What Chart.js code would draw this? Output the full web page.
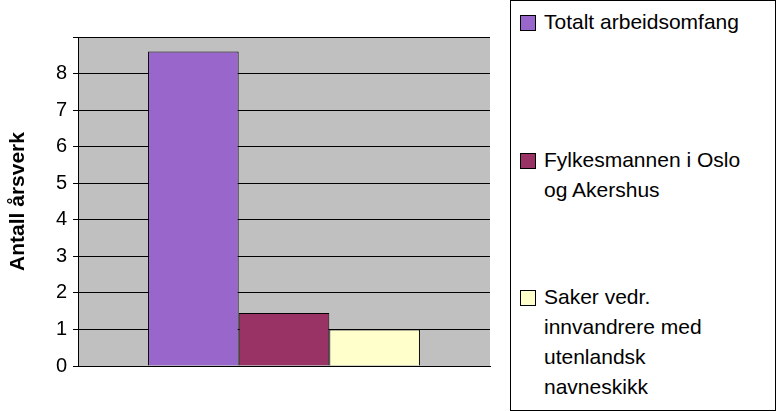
<!DOCTYPE html>
<html><head><meta charset="utf-8">
<script src="https://cdn.jsdelivr.net/npm/chart.js@4"></script>
<style>
body{margin:0;background:#fff;font-family:"Liberation Sans",Arial,sans-serif;}
#wrap{position:relative;width:778px;height:411px;}
#legend{position:absolute;left:510px;top:0;width:264px;height:409px;border:1px solid #000;background:#fff;}
.item{position:absolute;left:9px;font-size:21px;line-height:30px;color:#000;white-space:nowrap;}
.sw{position:absolute;left:0;top:8px;width:14px;height:14px;border:1px solid #000;}
.tx{margin-left:24px;}
</style></head><body>
<div id="wrap"><canvas id="c" width="778" height="411"></canvas>
<div id="legend"></div></div>
<script>
const categories = [""];
const seriesNames = ["Totalt arbeidsomfang", "Fylkesmannen i Oslo og Akershus", "Saker vedr. innvandrere med utenlandsk navneskikk"];
const legendLines = [["Totalt arbeidsomfang"], ["Fylkesmannen i Oslo", "og Akershus"], ["Saker vedr.", "innvandrere med", "utenlandsk", "navneskikk"]];
const values1 = [8.6];
const values2 = [1.45];
const values3 = [1.0];
const colors = ["#9966CC", "#993366", "#FFFFCC"];
const legendTops = [6, 144, 281];

const bg = {id:'bg', beforeDraw(ch){const a=ch.chartArea,c=ch.ctx;c.save();c.fillStyle='#C0C0C0';c.fillRect(a.left,a.top,a.right-a.left,a.bottom-a.top);c.restore();}};
new Chart(document.getElementById('c'), {
  type:'bar',
  data:{labels:categories, datasets:[values1,values2,values3].map((v,i)=>({label:seriesNames[i],data:v,backgroundColor:colors[i],borderColor:'#000',borderWidth:1,categoryPercentage:0.66,barPercentage:1}))},
  options:{responsive:false,animation:false,
    layout:{padding:{top:37,right:288,bottom:37,left:2}},
    plugins:{legend:{display:false},tooltip:{enabled:false}},
    scales:{
      x:{ticks:{display:false},grid:{display:false},border:{color:'#000'}},
      y:{min:0,max:9,ticks:{stepSize:1,color:'#000',font:{size:20,family:'Liberation Sans'},padding:6,callback:v=>v===9?'':v},
         grid:{color:'#000',tickLength:5,drawTicks:true},border:{color:'#000'},
         title:{display:true,text:'Antall årsverk',color:'#000',font:{size:21,weight:'bold',family:'Liberation Sans'}},
         afterFit(s){s.width=76;}}
    }},
  plugins:[bg]
});
const lg=document.getElementById('legend');
legendLines.forEach((lines,i)=>{const d=document.createElement('div');d.className='item';d.style.top=legendTops[i]+'px';
 d.innerHTML='<div class="sw" style="background:'+colors[i]+'"></div><div class="tx">'+lines.join('<br>')+'</div>';lg.appendChild(d);});
</script></body></html>
